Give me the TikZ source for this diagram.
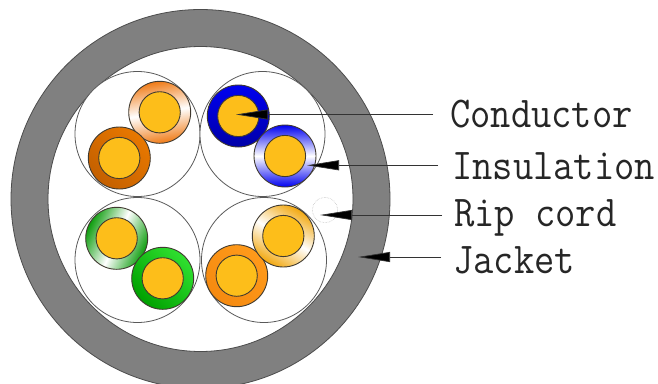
\documentclass[tikz,border=0pt]{standalone}
\usepackage{fontspec}
\usetikzlibrary{arrows.meta}
\definecolor{jacketgray}{HTML}{808080}
\definecolor{coreyellow}{HTML}{FDBE1A}
\definecolor{edgedark}{HTML}{403A30}
\definecolor{peach}{HTML}{F07C18}
\definecolor{darkorange}{HTML}{E87800}
\definecolor{burnt}{HTML}{C46000}
\definecolor{brightorange}{HTML}{FF9A1A}
\definecolor{deeporange}{HTML}{F58A10}
\definecolor{bluedark}{HTML}{0000A8}
\definecolor{bluebright}{HTML}{0000F0}
\definecolor{grn}{HTML}{0C9C0C}
\definecolor{grnbright}{HTML}{30E030}
\definecolor{grndark}{HTML}{00A000}
\definecolor{amber}{HTML}{F2A810}
\tikzset{
  x=1pt,y=-1pt,
  jacketring/.style={fill=jacketgray,draw=black!70,line width=0.8pt,even odd rule},
  paircircle/.style={draw=black!65,line width=0.8pt,fill=white},
  insul/.style={draw=edgedark,line width=0.9pt},
  core/.style={fill=coreyellow,draw=edgedark,line width=0.9pt},
  leader/.style={draw=black!80,line width=0.7pt,-{Triangle[length=32pt,width=10pt,fill=black]}},
  lbl/.style={anchor=base west,inner sep=0pt,xscale=0.895,transform shape,font=\ttfamily\fontsize{44}{44}\selectfont,text=black!85}
}
\newcommand{\wire}[3]{%
  \path[insul,#3] (#1,#2) circle[radius=31];
  \path[core] (#1,#2) circle[radius=20.6];}
\begin{document}
\begin{tikzpicture}
\useasboundingbox (0,0) rectangle (658,383);
\clip (0,0) rectangle (658,383);
\fill[white] (0,0) rectangle (658,383);
% jacket
\path[jacketring] (200.5,199) circle[radius=189.5] (200.5,199) circle[radius=152.5];
% pair circles
\path[paircircle] (137.5,134) circle[radius=62.5];
\path[paircircle] (262.5,134) circle[radius=62.5];
\path[paircircle] (137.5,260) circle[radius=62.5];
\path[paircircle] (264,260) circle[radius=62.5];
% rip cord
\draw[black!30,line width=0.5pt,densely dotted] (325,210) circle[radius=12.7];
% wires
\wire{159.7}{112.3}{left color=peach,right color=peach,middle color=white,shading angle=10}
\wire{119.3}{158}{left color=darkorange,right color=burnt,shading angle=315}
\wire{238.3}{116}{left color=bluebright,right color=bluedark,shading angle=0}
\wire{285}{156}{left color=bluebright,right color=bluebright,middle color=white,shading angle=0}
\wire{116.7}{238.3}{left color=grn,right color=grn,middle color=white,shading angle=65}
\wire{162.7}{278.3}{left color=grnbright,right color=grndark,shading angle=315}
\wire{236.7}{275.7}{left color=brightorange,right color=deeporange,shading angle=315}
\wire{283.3}{236}{left color=amber,right color=amber,middle color=white,shading angle=330}
% labels
\node[lbl] (conductor) at (450,127) {Conductor};
\node[lbl] (insulation) at (452,179) {Insulation};
\node[lbl] (ripcord) at (454,226) {Rip cord};
\node[lbl] (jacket) at (453,273) {Jacket};
% leader ends
\coordinate (c1) at (433,114.5); \coordinate (c2) at (236,114.5);
\coordinate (i1) at (438,165.3); \coordinate (i2) at (307,165.3);
\coordinate (r1) at (442,215);   \coordinate (r2) at (320,215);
\coordinate (j1) at (441,257);   \coordinate (j2) at (358,257);
\draw[leader] (c1) -- (c2);
\draw[leader] (i1) -- (i2);
\draw[leader] (r1) -- (r2);
\draw[leader] (j1) -- (j2);
\end{tikzpicture}
\end{document}
